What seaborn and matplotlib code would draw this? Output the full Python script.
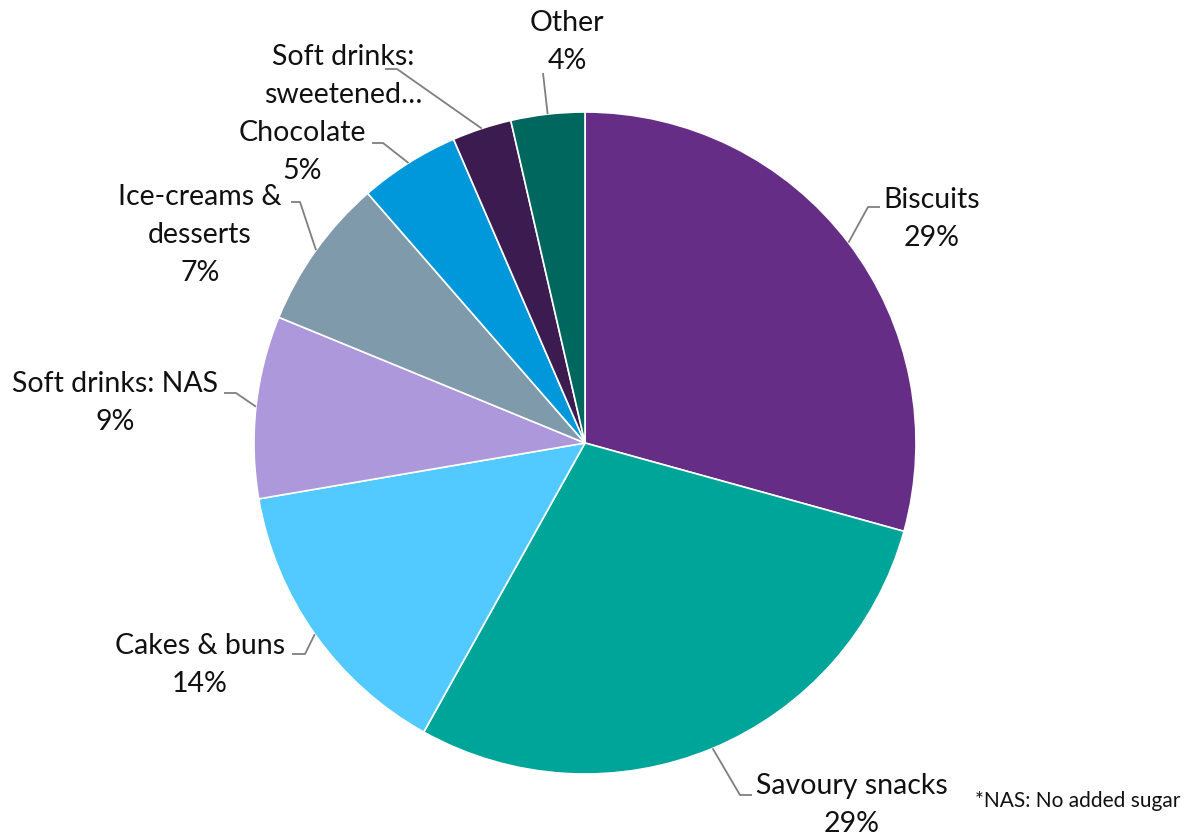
import numpy as np
import matplotlib
matplotlib.use("Agg")
import matplotlib.pyplot as plt
import seaborn as sns

sns.set_theme(style="white")
plt.rcParams["font.family"] = ["Lato", "DejaVu Sans"]

# Share of purchases by category (percent), clockwise from 12 o'clock
categories = ["Biscuits", "Savoury snacks", "Cakes & buns", "Soft drinks: NAS",
              "Ice-creams &\ndesserts", "Chocolate", "Soft drinks:\nsweetened\u2026", "Other"]
shares = [29.3, 28.8, 14.2, 8.9, 7.4, 4.9, 2.9, 3.6]
show_value = [True, True, True, True, True, True, False, True]
colors = ["#662D86", "#00A59A", "#52C9FF", "#AE98DC",
          "#7F9AAA", "#0097DB", "#3C1C50", "#00675F"]

W, H = 1199, 839
fig = plt.figure(figsize=(W / 100, H / 100), dpi=100)
ax = fig.add_axes([0, 0, 1, 1])

cx, cy, r = 585, H - 443, 331
wedges, _ = ax.pie(shares, colors=colors, startangle=90, counterclock=False,
                   center=(cx, cy), radius=r, frame=True,
                   wedgeprops=dict(edgecolor="white", linewidth=1.2))
ax.set_xlim(0, W)
ax.set_ylim(0, H)
ax.set_aspect("equal")
ax.axis("off")

# label block centres and leader elbows (pixel layout, y measured from top)
label_pos = [(932, 219), (852, 805), (200, 665), (115, 403),
             (200, 235), (302, 152), (343, 76), (567, 42)]
elbows = [[(868, 207), (880, 207)],
          [(740, 795), (752, 795)],
          [(305, 654), (292, 654)],
          [(236, 393), (224, 393)],
          [(300, 202), (291, 202)],
          [(383, 143), (372, 143)],
          [(397, 69), (385, 69)],
          [(543, 73)]]

for w, cat, val, show, (lx, ly), elb in zip(wedges, categories, shares, show_value,
                                            label_pos, elbows):
    mid = np.deg2rad((w.theta1 + w.theta2) / 2)
    sx, sy = cx + r * np.cos(mid), cy + r * np.sin(mid)
    xs = [sx] + [p[0] for p in elb]
    ys = [sy] + [H - p[1] for p in elb]
    ax.plot(xs, ys, color="#7F7F7F", lw=1.3, solid_capstyle="butt", zorder=1)
    label = f"{cat}\n{val:.0f}%" if show else cat
    ax.text(lx, H - ly, label, ha="center", va="center",
            fontsize=20.5, color="#111111", linespacing=1.55)

ax.text(1180, H - 801, "*NAS: No added sugar", ha="right", va="center",
        fontsize=15, color="#111111")

fig.savefig("out.png", dpi=100, facecolor="white")
